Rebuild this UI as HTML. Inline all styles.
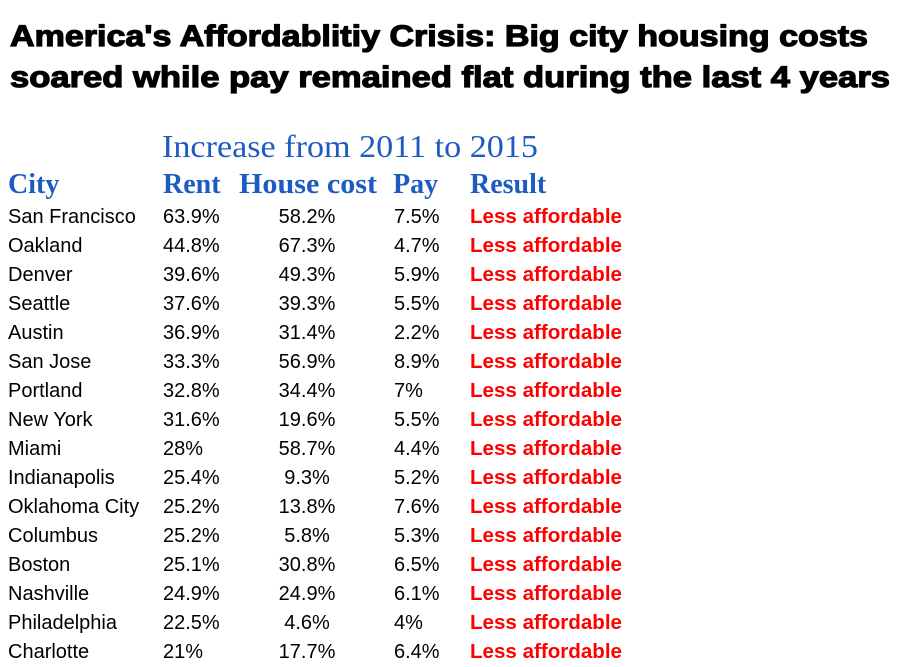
<!DOCTYPE html>
<html><head><meta charset="utf-8"><style>
html,body{margin:0;padding:0;background:#fff;}
svg{display:block;}
.t{font-family:"Liberation Sans",sans-serif;font-weight:bold;font-size:30px;fill:#000;stroke:#000;stroke-width:1.2px;}
.h{font-family:"Liberation Serif",serif;fill:#1e5bc0;}
.c{font-family:"Liberation Sans",sans-serif;font-size:20px;fill:#000;}
.r{font-family:"Liberation Sans",sans-serif;font-size:20px;font-weight:bold;fill:#f00;}
</style></head><body>
<svg id="chart" width="899" height="667">
<text class="t" x="10" y="46" textLength="858" lengthAdjust="spacingAndGlyphs">America's Affordablitiy Crisis: Big city housing costs</text>
<text class="t" x="10" y="87" textLength="880" lengthAdjust="spacingAndGlyphs">soared while pay remained flat during the last 4 years</text>
<text class="h" x="162" y="157" font-size="32" textLength="376" lengthAdjust="spacingAndGlyphs">Increase from 2011 to 2015</text>
<text class="h" x="8" y="193" font-size="28" font-weight="bold">City</text>
<text class="h" x="163" y="193" font-size="28" font-weight="bold">Rent</text>
<text class="h" x="239" y="193" font-size="28" font-weight="bold" textLength="138" lengthAdjust="spacingAndGlyphs">House cost</text>
<text class="h" x="393" y="193" font-size="28" font-weight="bold">Pay</text>
<text class="h" x="470" y="193" font-size="28" font-weight="bold">Result</text>
<g id="rows"></g>
</svg>
<script>
const cities=["San Francisco","Oakland","Denver","Seattle","Austin","San Jose","Portland","New York","Miami","Indianapolis","Oklahoma City","Columbus","Boston","Nashville","Philadelphia","Charlotte"];
const rent=["63.9%","44.8%","39.6%","37.6%","36.9%","33.3%","32.8%","31.6%","28%","25.4%","25.2%","25.2%","25.1%","24.9%","22.5%","21%"];
const house=["58.2%","67.3%","49.3%","39.3%","31.4%","56.9%","34.4%","19.6%","58.7%","9.3%","13.8%","5.8%","30.8%","24.9%","4.6%","17.7%"];
const pay=["7.5%","4.7%","5.9%","5.5%","2.2%","8.9%","7%","5.5%","4.4%","5.2%","7.6%","5.3%","6.5%","6.1%","4%","6.4%"];
const result=cities.map(()=> "Less affordable");
const g=document.getElementById('rows');
const NS="http://www.w3.org/2000/svg";
function txt(cls,x,y,s,anchor){
  const t=document.createElementNS(NS,'text');
  t.setAttribute('class',cls);t.setAttribute('x',x);t.setAttribute('y',y);
  if(anchor)t.setAttribute('text-anchor',anchor);
  t.textContent=s;g.appendChild(t);return t;
}
cities.forEach((c,i)=>{
  const y=223+29*i;
  let e;
  e=txt('c',8,y,c);
  
  
  e=txt('c',163,y,rent[i]);
  
  
  e=txt('c',307,y,house[i],'middle');
  
  
  e=txt('c',394,y,pay[i]);
  
  
  e=txt('r',470,y,result[i]);
  e.setAttribute('textLength','152');
  e.setAttribute('lengthAdjust','spacingAndGlyphs');
  
  
});
</script>
</body></html>
